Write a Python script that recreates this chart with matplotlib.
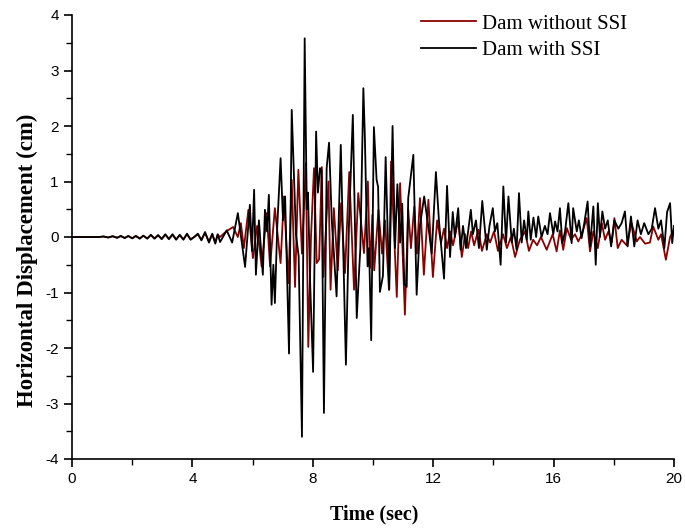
import matplotlib.pyplot as plt
import numpy as np

plt.rcParams['axes.unicode_minus'] = False

# peaks: (time s, displacement cm)
early = [(0, 0), (0.9, 0), (1.05, 0.01), (1.2, -0.01), (1.35, 0.015), (1.5, -0.015), (1.62, 0.02), (1.75, -0.02),
         (1.87, 0.02), (2.0, -0.025), (2.12, 0.02), (2.25, -0.03), (2.37, 0.025), (2.5, -0.03), (2.62, 0.04),
         (2.74, -0.03), (2.86, 0.035), (2.98, -0.04), (3.1, 0.05), (3.22, -0.04), (3.34, 0.05), (3.46, -0.05),
         (3.58, 0.04), (3.7, -0.05), (3.82, 0.06), (3.94, -0.05), (4.06, 0.0), (4.18, 0.06), (4.3, -0.06),
         (4.42, 0.09), (4.55, -0.1), (4.66, 0.06), (4.76, -0.12), (4.84, 0.05)]

with_ssi = early + [
    (4.92, -0.09), (5.14, 0.12), (5.32, -0.1), (5.51, 0.43), (5.75, -0.54), (5.91, 0.58), (5.98, -0.25),
    (6.05, 0.85), (6.11, -0.68), (6.21, 0.3), (6.34, -0.68), (6.41, 0.49), (6.48, 0.1), (6.54, 0.76),
    (6.63, -1.22), (6.69, -0.5), (6.74, -1.19), (6.82, 0.2), (6.93, 1.42), (7.01, 0.3), (7.08, 0.73),
    (7.21, -2.1), (7.30, 2.29), (7.44, 0.05), (7.53, -0.35), (7.64, -3.6), (7.73, 3.58), (7.80, 0.5),
    (7.84, 0.8), (7.91, -0.8), (8.01, -2.43), (8.11, 1.9), (8.17, 0.8), (8.24, 1.24), (8.29, 1.2),
    (8.37, -3.17), (8.46, 1.24), (8.54, 1.7), (8.63, 0.3), (8.79, -1.07), (8.93, 1.66), (9.10, -2.3),
    (9.20, 0.2), (9.33, 2.2), (9.46, -1.46), (9.52, -0.8), (9.58, -0.2), (9.68, 2.68), (9.73, 1.8),
    (9.82, -0.53), (9.87, -0.2), (9.94, -1.86), (10.03, 1.98), (10.12, 1.03), (10.17, 0.9), (10.23, -0.99),
    (10.33, -0.7), (10.42, 1.44), (10.54, -0.95), (10.65, 2.0), (10.73, -0.2), (10.81, 0.95), (10.90, -0.1),
    (10.97, 0.6), (11.04, -0.85), (11.12, -0.9), (11.17, 0.7), (11.34, 1.48), (11.45, -1.04), (11.56, 0.2),
    (11.70, 0.73), (11.86, 0.1), (11.95, -0.3), (12.09, 1.17), (12.19, 0.3), (12.36, -0.75), (12.46, 0.92),
    (12.56, -0.36), (12.65, 0.45), (12.72, 0.0), (12.83, 0.52), (12.91, -0.23), (12.99, 0.2), (13.09, -0.2),
    (13.25, 0.49), (13.32, 0.05), (13.42, 0.3), (13.52, -0.2), (13.63, 0.65), (13.78, -0.23), (13.87, 0.2),
    (13.98, 0.52), (14.05, 0.1), (14.13, 0.25), (14.24, -0.5), (14.33, 0.91), (14.42, -0.1), (14.50, 0.73),
    (14.61, -0.1), (14.68, 0.15), (14.77, -0.23), (14.85, 0.79), (14.94, -0.1), (15.02, 0.3), (15.11, -0.05),
    (15.16, 0.46), (15.24, -0.05), (15.33, 0.35), (15.42, 0.0), (15.49, 0.37), (15.60, 0.0), (15.71, 0.2),
    (15.80, 0.05), (15.88, 0.43), (15.99, 0.05), (16.05, 0.28), (16.13, 0.1), (16.21, 0.52), (16.29, -0.11),
    (16.38, 0.1), (16.49, 0.61), (16.60, -0.11), (16.65, 0.52), (16.77, 0.1), (16.84, 0.3), (16.93, -0.02),
    (17.02, 0.25), (17.13, 0.64), (17.21, -0.17), (17.32, 0.55), (17.40, -0.5), (17.47, 0.61), (17.54, 0.0),
    (17.62, 0.46), (17.71, 0.15), (17.80, 0.3), (17.91, -0.17), (18.02, 0.3), (18.15, 0.15), (18.26, 0.25),
    (18.37, 0.46), (18.46, -0.17), (18.57, 0.37), (18.68, -0.17), (18.79, 0.3), (18.90, 0.05), (19.01, 0.25),
    (19.15, 0.05), (19.26, 0.15), (19.37, 0.52), (19.48, 0.15), (19.57, 0.3), (19.68, -0.2), (19.77, 0.45),
    (19.87, 0.61), (19.94, -0.11), (20.0, 0.2)]

without_ssi = [(t, 0.8 * y) for t, y in early] + [
    (4.92, 0.0), (5.12, 0.1), (5.35, 0.18), (5.51, 0.0), (5.61, 0.25), (5.71, -0.2), (5.86, 0.49),
    (6.01, -0.38), (6.15, 0.2), (6.30, -0.53), (6.47, 0.43), (6.58, -0.53), (6.74, 0.52), (6.93, -0.47),
    (7.04, 0.73), (7.19, -0.83), (7.30, 1.03), (7.41, -0.9), (7.52, 1.21), (7.64, -0.3), (7.77, 1.33),
    (7.85, -1.98), (7.94, 0.0), (8.04, 1.24), (8.13, -0.47), (8.21, -0.4), (8.30, 1.26), (8.35, -0.72),
    (8.52, 1.0), (8.59, -0.95), (8.70, 0.52), (8.83, -0.6), (8.94, 0.61), (9.07, -0.65), (9.21, 1.17),
    (9.37, -0.95), (9.51, 0.79), (9.70, -0.29), (9.83, 1.0), (9.90, -0.56), (9.98, 0.4), (10.04, -0.6),
    (10.18, 0.49), (10.30, -0.3), (10.40, 0.3), (10.53, -0.95), (10.60, 1.36), (10.79, -1.08), (10.90, 0.97),
    (11.06, -1.4), (11.17, 0.5), (11.26, -0.2), (11.37, 0.55), (11.46, -0.3), (11.56, 0.7), (11.69, -0.68),
    (11.84, 0.67), (11.99, -0.72), (12.13, 0.3), (12.26, -0.1), (12.36, 0.15), (12.46, -0.2), (12.56, 0.1),
    (12.66, -0.15), (12.83, 0.3), (12.95, -0.36), (13.06, 0.05), (13.16, -0.2), (13.26, 0.1), (13.36, -0.15),
    (13.50, 0.13), (13.62, -0.25), (13.78, 0.05), (13.89, -0.1), (14.02, 0.1), (14.15, -0.25), (14.32, 0.05),
    (14.45, -0.2), (14.58, 0.0), (14.72, -0.36), (14.88, -0.05), (15.05, 0.1), (15.18, -0.25), (15.32, -0.05),
    (15.45, -0.15), (15.58, 0.0), (15.77, -0.23), (15.97, 0.05), (16.10, -0.26), (16.21, 0.12), (16.32, -0.23),
    (16.44, 0.16), (16.58, -0.05), (16.71, 0.05), (16.82, -0.08), (16.94, 0.05), (17.10, 0.34), (17.21, -0.26),
    (17.32, 0.1), (17.47, -0.2), (17.60, 0.25), (17.71, -0.05), (17.82, 0.1), (17.93, -0.1), (18.02, 0.34),
    (18.13, -0.2), (18.26, -0.05), (18.43, -0.15), (18.59, 0.25), (18.76, -0.08), (18.87, 0.0), (19.04, -0.12),
    (19.20, -0.1), (19.31, 0.19), (19.48, -0.05), (19.57, 0.05), (19.73, -0.41), (19.87, 0.0), (20.0, 0.13)]

t_ssi, y_ssi = zip(*with_ssi)
t_fixed, y_fixed = zip(*without_ssi)

fig = plt.figure(figsize=(6.85, 5.31), dpi=100)
ax = fig.add_axes([72 / 685, 1 - 459 / 531, 602 / 685, 444 / 531])

ax.plot(t_fixed, y_fixed, color='#8b0000', lw=1.3, label='Dam without SSI')
ax.plot(t_ssi, y_ssi, color='black', lw=1.3, label='Dam with SSI')

ax.set_xlim(0, 20)
ax.set_ylim(-4, 4)
ax.set_xticks(np.arange(0, 21, 4))
ax.set_xticks(np.arange(0, 21, 2), minor=True)
ax.set_yticks(np.arange(-4, 5, 1))
ax.set_yticks(np.arange(-4, 4.1, 0.5), minor=True)
ax.spines['top'].set_visible(False)
ax.spines['right'].set_visible(False)
for s in ['left', 'bottom']:
    ax.spines[s].set_linewidth(1.2)
ax.tick_params(which='major', direction='out', length=6, width=1.2, labelsize=11)
ax.tick_params(which='minor', direction='out', length=4, width=1.0)
for lab in ax.get_xticklabels() + ax.get_yticklabels():
    lab.set_fontfamily('Liberation Sans')

fig.text(374 / 685, 1 - 514 / 531, 'Time (sec)', family='Liberation Serif', weight='bold', fontsize=14.5,
         ha='center', va='center')
fig.text(27 / 685, 1 - 260 / 531, 'Horizontal Displacement (cm)', family='Liberation Serif', weight='bold',
         fontsize=16.5, rotation=90, ha='center', va='center')

ax.legend(loc='upper left', bbox_to_anchor=(421 / 685, 1 - 14 / 531), bbox_transform=fig.transFigure,
          frameon=False, borderpad=0, borderaxespad=0, handlelength=2.65, handletextpad=0.3,
          labelspacing=0.35, prop={'family': 'Liberation Serif', 'size': 15})

fig.savefig('out.png', dpi=100)
